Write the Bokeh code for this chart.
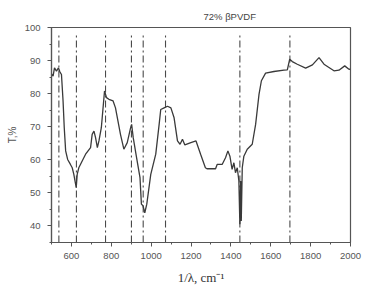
from bokeh.plotting import figure
from bokeh.models import SingleIntervalTicker, Range1d
from bokeh.embed import file_html
from bokeh.resources import INLINE

# Spectrum (wavenumber, transmittance %)
wavenumber = [500, 508, 515, 525, 535, 542, 550, 558, 564, 571, 581, 595, 604, 612, 624,
              629, 637, 671, 696, 704, 713, 721, 730, 738, 750, 766, 776, 788, 809, 821,
              846, 863, 880, 897, 902, 910, 927, 944, 951, 959, 968, 978, 998, 1023, 1040,
              1048, 1065, 1082, 1099, 1115, 1132, 1145, 1157, 1169, 1199, 1225, 1248, 1272,
              1280, 1323, 1331, 1356, 1373, 1385, 1395, 1406, 1415, 1423, 1432, 1440, 1445,
              1449, 1452, 1457, 1465, 1482, 1507, 1524, 1541, 1553, 1574, 1616, 1666, 1683,
              1695, 1708, 1733, 1775, 1809, 1842, 1867, 1917, 1942, 1971, 1992, 2000]
transmittance = [86.0, 85.3, 87.8, 86.8, 87.8, 86.6, 85.8, 77.8, 69.7, 62.7, 60.1, 58.6, 57.6,
                 55.6, 51.6, 55.6, 57.6, 61.7, 63.7, 67.7, 68.7, 66.7, 63.7, 65.7, 69.7, 80.8,
                 78.8, 78.3, 77.8, 75.7, 67.7, 63.2, 65.2, 69.7, 70.7, 66.7, 60.6, 54.6, 46.6,
                 46.1, 44.0, 46.6, 55.6, 61.7, 70.7, 75.2, 75.7, 76.2, 75.7, 72.7, 65.7, 64.7,
                 66.2, 64.5, 65.2, 65.7, 61.7, 57.6, 57.3, 57.3, 58.6, 58.6, 60.6, 62.7, 61.1,
                 57.1, 59.1, 56.1, 57.6, 53.6, 40.5, 53.6, 41.5, 57.6, 61.1, 63.2, 64.7, 70.7,
                 79.8, 83.9, 86.2, 86.7, 87.1, 87.2, 90.4, 89.7, 88.9, 87.7, 88.7, 90.9, 88.9,
                 86.9, 87.1, 88.4, 87.4, 87.3]

# Marked band positions (dash-dot guide lines)
band_positions = [537, 625, 771, 901, 960, 1072, 1445, 1696]
band_top = 98
band_bottom = 35

title_text = "72% βPVDF"
x_label = "1/λ, cm⁻¹"
y_label = "T,%"

p = figure(width=373, height=290, output_backend="svg", toolbar_location=None,
           x_range=Range1d(500, 2000), y_range=Range1d(35, 100),
           min_border_left=51, min_border_right=23, min_border_top=27, min_border_bottom=48)

p.segment(x0=band_positions, x1=band_positions,
          y0=[band_bottom] * len(band_positions), y1=[band_top] * len(band_positions),
          line_color="#4a4a4a", line_width=1.1, line_dash="7 3 2 3")

p.line(wavenumber, transmittance, line_color="#3a3a3a", line_width=1.3)

p.xgrid.visible = False
p.ygrid.visible = False
p.outline_line_color = "#555555"
p.outline_line_width = 1.2
p.background_fill_color = "white"
p.border_fill_color = "white"

p.title.text = title_text
p.title.align = "left"
p.title.offset = 152
p.title.standoff = 12
p.title.text_font = "Liberation Sans"
p.title.text_font_style = "normal"
p.title.text_font_size = "9.5px"
p.title.text_color = "#444444"

p.xaxis.ticker = SingleIntervalTicker(interval=200, num_minor_ticks=2)
p.yaxis.ticker = SingleIntervalTicker(interval=10, num_minor_ticks=2)

for ax in (p.xaxis[0], p.yaxis[0]):
    ax.axis_line_color = "#555555"
    ax.axis_line_width = 1.2
    ax.major_tick_line_color = "#555555"
    ax.minor_tick_line_color = "#555555"
    ax.major_tick_out = 4
    ax.major_tick_in = 0
    ax.minor_tick_out = 2
    ax.minor_tick_in = 0
    ax.major_label_text_font = "Liberation Sans"
    ax.major_label_text_font_size = "9.5px"
    ax.major_label_text_color = "#555555"

p.xaxis.axis_label = x_label
p.xaxis.axis_label_text_font = "Liberation Serif"
p.xaxis.axis_label_text_font_style = "normal"
p.xaxis.axis_label_text_font_size = "13px"
p.xaxis.axis_label_text_color = "#333333"
p.xaxis.axis_label_standoff = 8
p.xaxis.major_label_standoff = 6

p.yaxis.axis_label = y_label
p.yaxis.axis_label_text_font = "Liberation Sans"
p.yaxis.axis_label_text_font_style = "normal"
p.yaxis.axis_label_text_font_size = "10px"
p.yaxis.axis_label_text_color = "#555555"
p.yaxis.axis_label_standoff = 4
p.yaxis.major_label_standoff = 7

open("out.html", "w").write(file_html(p, INLINE))
